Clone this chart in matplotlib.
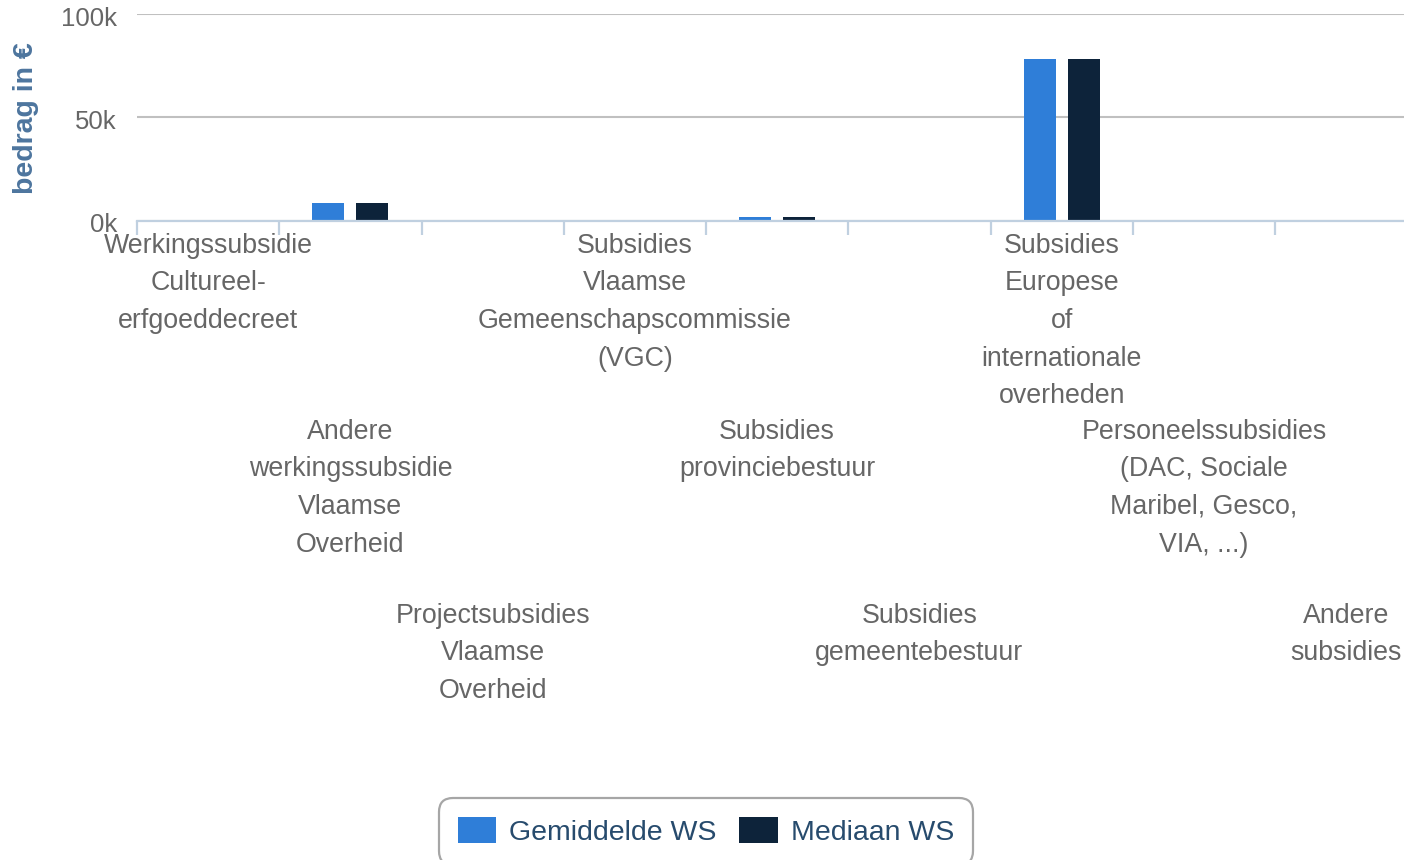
import matplotlib
matplotlib.use("Agg")
import matplotlib.pyplot as plt
import numpy as np
from matplotlib.transforms import ScaledTranslation
from matplotlib.patches import FancyBboxPatch
from matplotlib.legend_handler import HandlerPatch

categories = [
    "Werkingssubsidie\nCultureel-\nerfgoeddecreet",
    "Andere\nwerkingssubsidie\nVlaamse\nOverheid",
    "Projectsubsidies\nVlaamse\nOverheid",
    "Subsidies\nVlaamse\nGemeenschapscommissie\n(VGC)",
    "Subsidies\nprovinciebestuur",
    "Subsidies\ngemeentebestuur",
    "Subsidies\nEuropese\nof\ninternationale\noverheden",
    "Personeelssubsidies\n(DAC, Sociale\nMaribel, Gesco,\nVIA, ...)",
    "Andere\nsubsidies",
]
gemiddelde_ws = [0, 8800, 0, 0, 1600, 0, 78500, 0, 0]
mediaan_ws = [0, 8800, 0, 0, 1600, 0, 78500, 0, 0]
series_names = ["Gemiddelde WS", "Mediaan WS"]
y_ticks = [0, 50000, 100000]
y_tick_labels = ["0k", "50k", "100k"]

plt.rcParams['font.family'] = ['Liberation Sans', 'DejaVu Sans']

W, H = 1404, 860
fig = plt.figure(figsize=(W / 100, H / 100), dpi=100)

ax_left = 137 / W
ax_bottom = (H - 220.7) / H
ax_top = (H - 14.3) / H
ax = fig.add_axes([ax_left, ax_bottom, 1 - ax_left, ax_top - ax_bottom])

cat_px = 142.25
x = np.arange(len(categories))
bw = 32 / cat_px
off = 22 / cat_px
ax.bar(x - off, gemiddelde_ws, width=bw, color="#2f7ed8", linewidth=0,
       label=series_names[0], zorder=3)
ax.bar(x + off, mediaan_ws, width=bw, color="#0d233a", linewidth=0,
       label=series_names[1], zorder=3)

# grid and spines
for s in ["top", "right", "left"]:
    ax.spines[s].set_visible(False)
ax.spines["bottom"].set_color("#C0D0E0")
ax.spines["bottom"].set_linewidth(1.6)
ax.spines["bottom"].set_zorder(4)
ax.set_yticks(y_ticks)
ax.set_yticklabels(y_tick_labels)
ax.yaxis.grid(True, color="#C0C0C0", linewidth=1.5, zorder=0)
ax.set_axisbelow(True)
ax.tick_params(axis="y", length=0, pad=14.4, labelsize=18.5, labelcolor="#666666")
for lab in ax.get_yticklabels():
    lab.set_transform(lab.get_transform() + ScaledTranslation(0, -2 / 100, fig.dpi_scale_trans))

ax.set_xticks(np.arange(len(categories) + 1) - 0.5)
ax.set_xticklabels([])
ax.tick_params(axis="x", length=10, width=1.6, color="#C0D0E0", direction="out")

ax.set_xlim(-0.5, -0.5 + (W - 137) / cat_px)
ax.set_ylim(0, 100000)

# staggered category labels
row_offsets = [-12, -198, -382]
for i, lab in enumerate(categories):
    ax.annotate(lab, xy=(i, 0), xycoords=("data", "axes fraction"),
                xytext=(0, row_offsets[i % 3]), textcoords="offset pixels",
                ha="center", va="top", multialignment="center",
                fontsize=19.3, color="#666666", linespacing=1.58,
                annotation_clip=False)

fig.text(26 / W, 1 - 118 / H, "bedrag in €", rotation=90, ha="center", va="center",
         fontsize=20.5, fontweight="bold", color="#4d759e")


class RoundedHandler(HandlerPatch):
    def create_artists(self, legend, orig_handle, xdescent, ydescent, width, height,
                       fontsize, trans):
        p = FancyBboxPatch((-xdescent, -ydescent - 2), width, height + 4,
                           boxstyle="round,pad=0,rounding_size=3",
                           facecolor=orig_handle.get_facecolor(), edgecolor="none",
                           transform=trans)
        return [p]


handles, labels = ax.get_legend_handles_labels()
leg = fig.legend(handles, labels, loc="upper center", bbox_to_anchor=(706 / W, (H - 784) / H),
                 ncol=2, frameon=True, fontsize=20.5, handlelength=1.36, handleheight=1.05,
                 handletextpad=0.45, columnspacing=0.8, borderpad=0.66,
                 fancybox=True, edgecolor="#909090", labelcolor="#274b6d",
                 handler_map={matplotlib.patches.Rectangle: RoundedHandler()})
leg.get_frame().set_linewidth(1.6)
leg.get_frame().set_boxstyle("round", pad=0.0, rounding_size=0.5)

fig.savefig("out.png", dpi=100)
